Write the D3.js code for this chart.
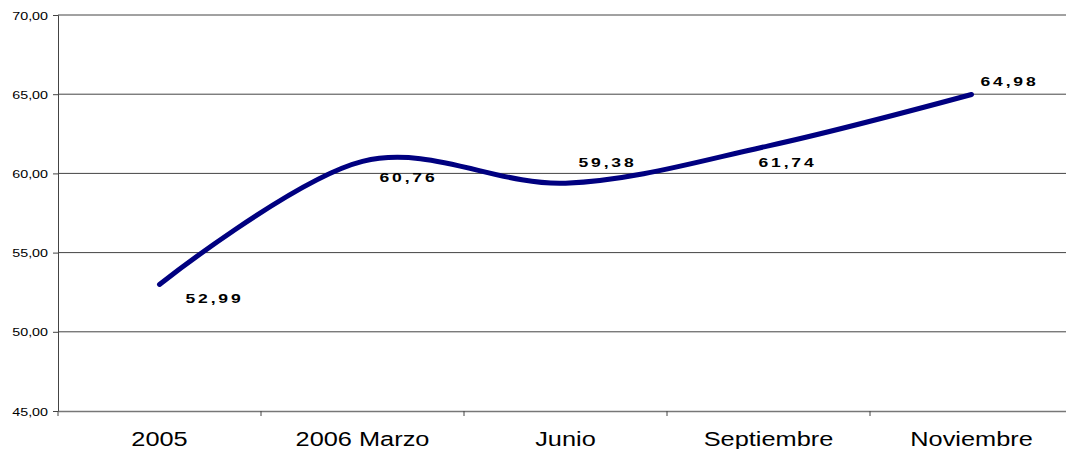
<!DOCTYPE html>
<html lang="es">
<head>
    <meta charset="UTF-8">
    <title>Evolución 2005 - 2006</title>
    <script src="https://cdnjs.cloudflare.com/ajax/libs/d3/7.8.5/d3.min.js"></script>
    <style>
        body {
            margin: 0;
            background: #fff;
        }
        svg {
            display: block;
            font-family: "Liberation Sans", Arial, sans-serif;
        }
    </style>
</head>
<body>
    <svg id="chart" width="1066" height="449"></svg>

    <script>
        // Data
        const categories = ["2005", "2006 Marzo", "Junio", "Septiembre", "Noviembre"];
        const values = [52.99, 60.76, 59.38, 61.74, 64.98];
        const valueLabels = ["52,99", "60,76", "59,38", "61,74", "64,98"];
        const yTicks = [45, 50, 55, 60, 65, 70];

        // Where each data label sits relative to its point (Excel put them by hand)
        const labelOffsets = [[55, 19], [46, 21], [42, -16], [19, 21], [38, -9]];

        const svg = d3.select("#chart");
        const plotLeft = 58, plotTop = 15, plotBottom = 411;
        const bandW = 203;
        const stretch = 1.3; // text in the picture is stretched sideways

        const x = d3.scaleBand()
            .domain(categories)
            .range([plotLeft, plotLeft + bandW * categories.length]);

        const y = d3.scaleLinear()
            .domain([45, 70])
            .range([plotBottom, plotTop]);

        const fmt = v => d3.format(".2f")(v).replace(".", ",");

        // helper for stretched text
        function stretchedText(px, py, str, anchor, size, weight, spacing) {
            const g = svg.append("g")
                .attr("transform", `translate(${px},${py}) scale(${stretch},1)`);
            g.append("text")
                .attr("text-anchor", anchor)
                .attr("font-size", size)
                .attr("font-weight", weight || "normal")
                .attr("letter-spacing", spacing || 0)
                .attr("fill", "#000")
                .text(str);
        }

        // gridlines
        svg.append("g")
            .selectAll("line")
            .data(yTicks.filter(d => d > 45))
            .enter()
            .append("line")
            .attr("x1", plotLeft)
            .attr("x2", 1066)
            .attr("y1", d => y(d))
            .attr("y2", d => y(d))
            .attr("stroke", "#444")
            .attr("stroke-width", 1);

        // y axis
        const yAxis = svg.append("g")
            .attr("transform", `translate(${plotLeft},0)`)
            .call(d3.axisLeft(y).tickValues(yTicks).tickSize(5).tickFormat(""));
        yAxis.select(".domain").attr("stroke", "#444");
        yAxis.selectAll(".tick line").attr("stroke", "#444");

        yTicks.forEach(t => stretchedText(48, y(t) + 4.5, fmt(t), "end", 11));

        // x axis
        const xAxis = svg.append("g")
            .attr("transform", `translate(0,${plotBottom})`)
            .call(d3.axisBottom(x).tickSize(0).tickFormat(""));
        xAxis.select(".domain").attr("stroke", "#777").attr("stroke-width", 1.5);
        xAxis.selectAll(".tick").remove();

        svg.append("g")
            .selectAll("line")
            .data(categories)
            .enter()
            .append("line")
            .attr("x1", d => x(d))
            .attr("x2", d => x(d))
            .attr("y1", plotBottom)
            .attr("y2", plotBottom + 5)
            .attr("stroke", "#444");

        categories.forEach(c => stretchedText(x(c) + x.bandwidth() / 2, 446, c, "middle", 19.5));

        // the line
        const line = d3.line()
            .x((d, i) => x(categories[i]) + x.bandwidth() / 2)
            .y(d => y(d))
            .curve(d3.curveCardinal.tension(0));

        svg.append("path")
            .datum(values)
            .attr("d", line)
            .attr("fill", "none")
            .attr("stroke", "#000080")
            .attr("stroke-width", 5)
            .attr("stroke-linecap", "round")
            .attr("stroke-linejoin", "round");

        // data labels
        values.forEach((v, i) => {
            const px = x(categories[i]) + x.bandwidth() / 2 + labelOffsets[i][0];
            const py = y(v) + labelOffsets[i][1];
            stretchedText(px, py, valueLabels[i], "middle", 13.5, "bold", 2.2);
        });
    </script>
</body>
</html>
